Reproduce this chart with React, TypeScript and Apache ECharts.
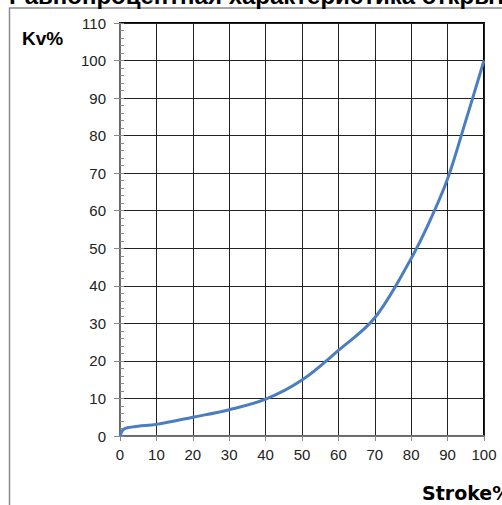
import React, { useEffect, useRef } from "react";
import * as echarts from "echarts";

const strokePct = [0, 0.5, 1, 2, 5, 10, 20, 30, 40, 50, 60, 70, 80, 85, 90, 95, 100];
const kvPct = [0, 1.2, 1.8, 2.2, 2.6, 3.1, 5.0, 7.0, 9.8, 14.9, 22.8, 31.5, 47.3, 57, 68.5, 84, 100];
const xTicks = { min: 0, max: 100, interval: 10 };
const yTicks = { min: 0, max: 110, interval: 10 };
const titleText = "Равнопроцентная характеристика открытия";
const yName = "Kv%";
const xName = "Stroke%";

export default function App() {
  const ref = useRef<HTMLDivElement>(null);
  useEffect(() => {
    const chart = echarts.init(ref.current!, null, { renderer: "svg" });
    const data = strokePct.map((x, i) => [x, kvPct[i]]);
    chart.setOption({
      animation: false,
      backgroundColor: "#fff",
      grid: {
        left: 120,
        right: 18,
        top: 23,
        bottom: 69,
        show: true,
        borderColor: "#000",
        borderWidth: 2,
      },
      xAxis: {
        type: "value",
        min: xTicks.min,
        max: xTicks.max,
        interval: xTicks.interval,
        axisLine: { show: true, lineStyle: { color: "#8a8a8a", width: 1.5 } },
        axisTick: { show: true, length: 5, lineStyle: { color: "#8a8a8a" } },
        axisLabel: { margin: 11, fontSize: 15, color: "#222", fontFamily: "Liberation Sans" },
        splitLine: { show: true, lineStyle: { color: "#222", width: 1 } },
      },
      yAxis: [
        {
          type: "value",
          min: yTicks.min,
          max: yTicks.max,
          interval: yTicks.interval,
          axisLine: { show: true, lineStyle: { color: "#8a8a8a", width: 1.5 } },
          axisTick: { show: true, length: 6, lineStyle: { color: "#8a8a8a" } },
          axisLabel: { margin: 14, fontSize: 15, color: "#222", fontFamily: "Liberation Sans" },
          splitLine: { show: true, lineStyle: { color: "#222", width: 1 } },
        },
        {
          type: "value",
          position: "left",
          min: yTicks.min,
          max: yTicks.max,
          interval: 2,
          axisLine: { show: false },
          axisTick: { show: true, inside: true, length: 4, lineStyle: { color: "#8a8a8a" } },
          axisLabel: { show: false },
          splitLine: { show: false },
        },
      ],
      series: [
        {
          type: "line",
          data,
          smooth: 0.35,
          showSymbol: false,
          lineStyle: { color: "#4a7ec0", width: 3 },
        },
      ],
      graphic: [
        {
          type: "rect",
          shape: { x: 9.5, y: 8, width: 600, height: 600 },
          style: { fill: "none", stroke: "#8a8a8a", lineWidth: 1.5 },
          z: -1,
        },
        {
          type: "text",
          x: 9,
          y: -17,
          style: { text: titleText, font: "bold 24px 'Liberation Sans'", fill: "#000" },
        },
        {
          type: "text",
          x: 22,
          y: 29,
          style: { text: yName, font: "bold 19px 'Liberation Sans'", fill: "#000" },
        },
        {
          type: "text",
          x: 422,
          y: 483,
          style: { text: xName, font: "bold 19px 'DejaVu Sans'", fill: "#000" },
        },
      ],
    });
    return () => chart.dispose();
  }, []);
  return (
    <div
      ref={ref}
      style={{ position: "fixed", left: 0, top: 0, width: 502, height: 505 }}
    />
  );
}
